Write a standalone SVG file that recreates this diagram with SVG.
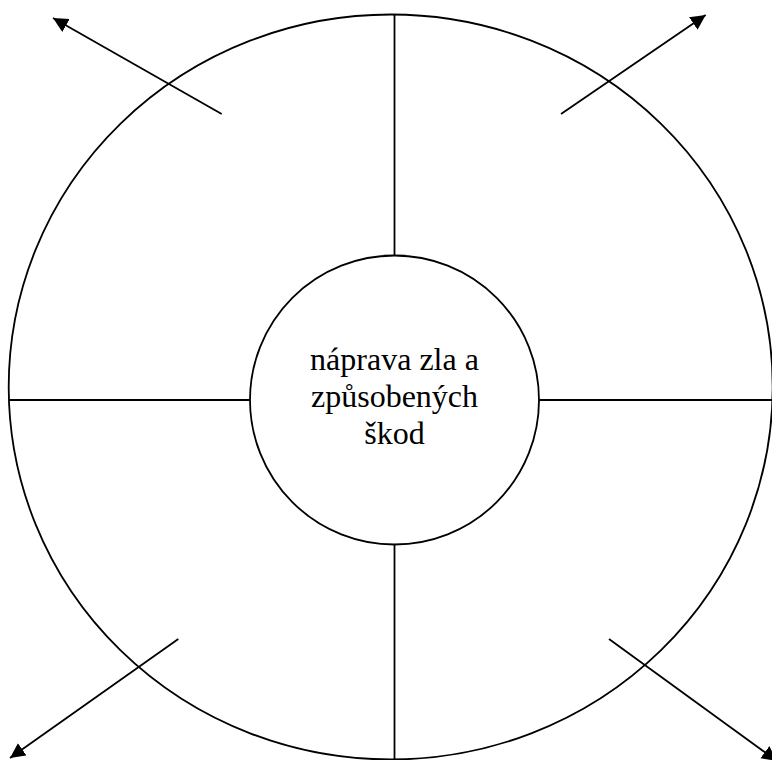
<svg xmlns="http://www.w3.org/2000/svg" width="772" height="760" viewBox="0 0 772 760">
<style>
.s{fill:none;stroke:#000;stroke-width:1.8}
.t{font-family:"Liberation Serif","Times New Roman",serif;font-size:32px;fill:#000;text-anchor:middle}
</style>
<defs>
<marker id="ah" markerUnits="userSpaceOnUse" markerWidth="16" markerHeight="16" refX="15" refY="7.5" orient="auto">
<path d="M0,0 L15,7.5 L0,15 z" fill="#000"/>
</marker>
</defs>
<rect width="772" height="760" fill="#fff"/>
<g id="outer">
<ellipse class="s" cx="390.7" cy="387" rx="382" ry="372.5"/>
</g>
<g id="center">
<circle class="s" cx="394.5" cy="400" r="144.5"/>
<text class="t" x="394.5" y="370" font-family="Liberation Serif, serif">náprava zla a</text>
<text class="t" x="394.5" y="407" font-family="Liberation Serif, serif">způsobených</text>
<text class="t" x="394.5" y="444" font-family="Liberation Serif, serif">škod</text>
</g>
<g id="connectors">
<line class="s" x1="394.5" y1="14.5" x2="394.5" y2="255.5"/>
<line class="s" x1="394.5" y1="544.5" x2="394.5" y2="760"/>
<line class="s" x1="9" y1="400" x2="250" y2="400"/>
<line class="s" x1="539" y1="400" x2="772" y2="400"/>
<line class="s" x1="221.7" y1="114" x2="53" y2="18" marker-end="url(#ah)"/>
<line class="s" x1="561" y1="114" x2="705.7" y2="15" marker-end="url(#ah)"/>
<line class="s" x1="178.3" y1="639" x2="10" y2="758" marker-end="url(#ah)"/>
<line class="s" x1="609" y1="639" x2="777" y2="761" marker-end="url(#ah)"/>
</g>
</svg>
